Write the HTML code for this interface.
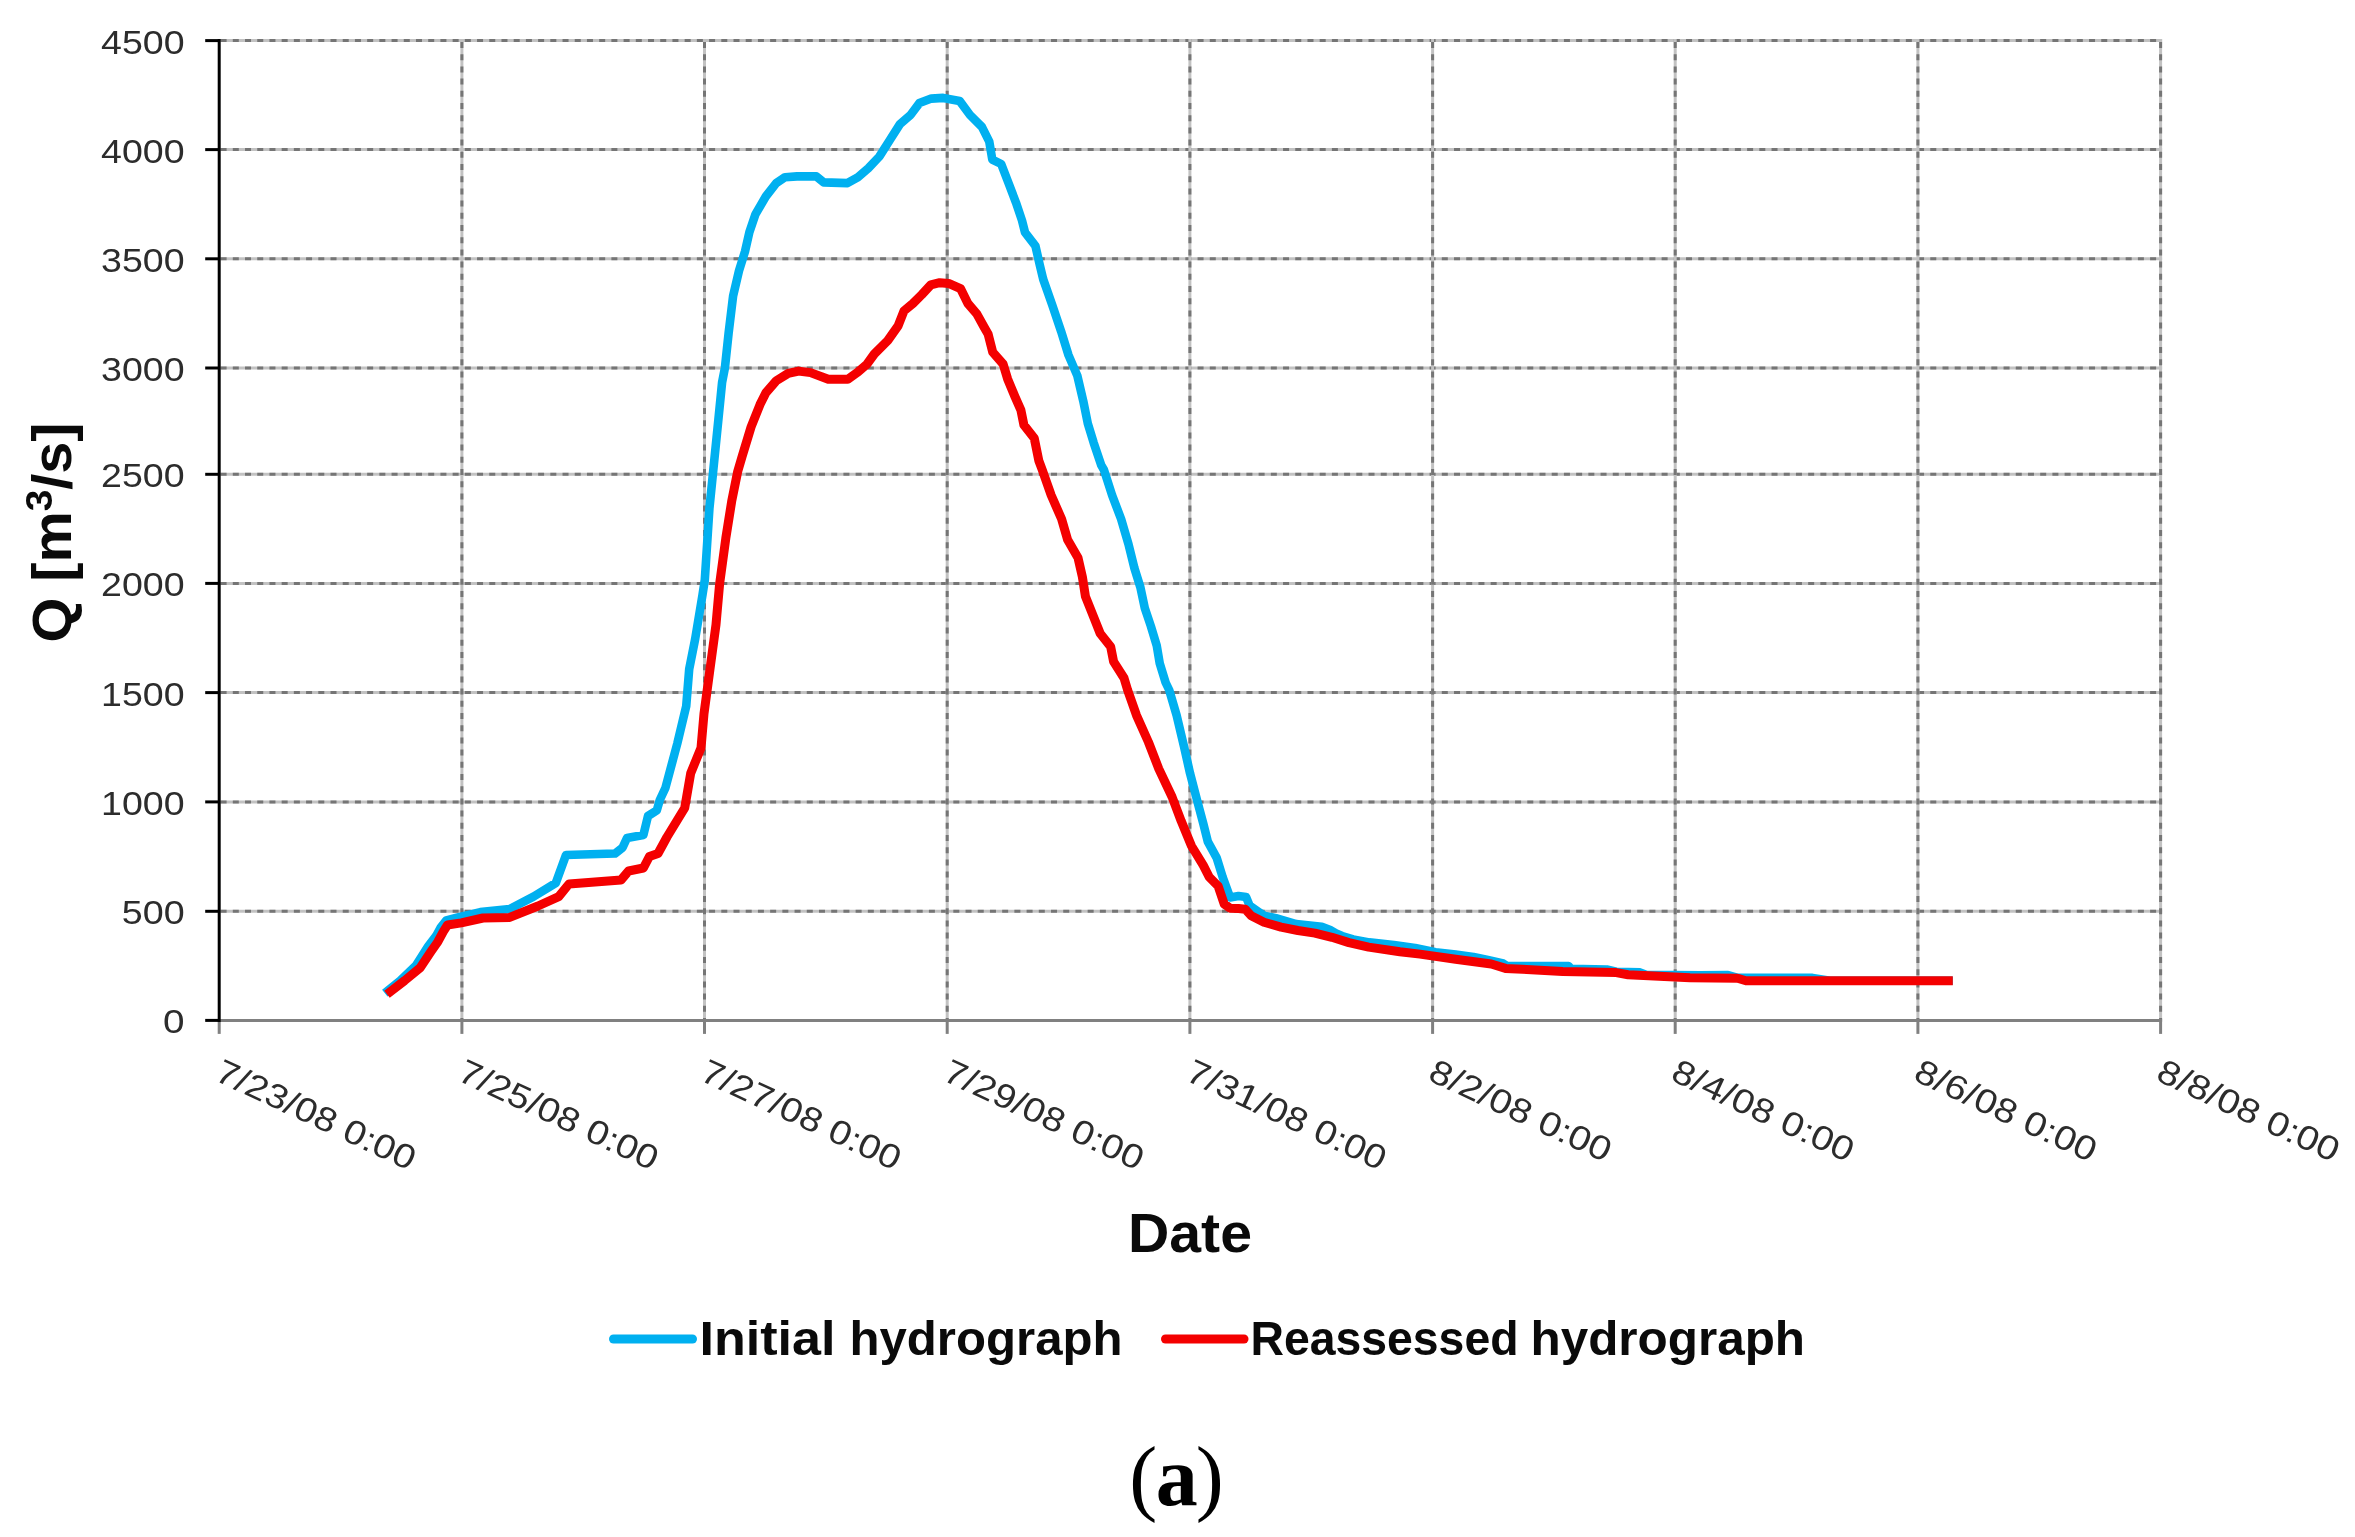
<!DOCTYPE html>
<html lang="en"><head><meta charset="utf-8"><title>Hydrograph (a)</title>
<style>
html,body{margin:0;padding:0;background:#fff;}
body{width:2355px;height:1537px;overflow:hidden;}
svg{display:block;filter:blur(0.55px);}
.t{font-family:"Liberation Sans",sans-serif;fill:#2c2c2c;}
.b{font-family:"Liberation Sans",sans-serif;font-weight:bold;fill:#0a0a0a;}
.s{font-family:"Liberation Serif",serif;fill:#000;}
</style></head><body>
<svg width="2355" height="1537" viewBox="0 0 2355 1537">
<rect width="2355" height="1537" fill="#fff"/>

<g fill="none" stroke-width="3">
<line x1="219.2" x2="2162.1" y1="911.3" y2="911.3" stroke="#c2c2c2"/>
<line x1="220.6" x2="2162.1" y1="911.3" y2="911.3" stroke="#757575" stroke-dasharray="6 6.212"/>
<line x1="219.2" x2="2162.1" y1="801.9" y2="801.9" stroke="#c2c2c2"/>
<line x1="220.6" x2="2162.1" y1="801.9" y2="801.9" stroke="#757575" stroke-dasharray="6 6.212"/>
<line x1="219.2" x2="2162.1" y1="692.6" y2="692.6" stroke="#c2c2c2"/>
<line x1="220.6" x2="2162.1" y1="692.6" y2="692.6" stroke="#757575" stroke-dasharray="6 6.212"/>
<line x1="219.2" x2="2162.1" y1="583.4" y2="583.4" stroke="#c2c2c2"/>
<line x1="220.6" x2="2162.1" y1="583.4" y2="583.4" stroke="#757575" stroke-dasharray="6 6.212"/>
<line x1="219.2" x2="2162.1" y1="474.3" y2="474.3" stroke="#c2c2c2"/>
<line x1="220.6" x2="2162.1" y1="474.3" y2="474.3" stroke="#757575" stroke-dasharray="6 6.212"/>
<line x1="219.2" x2="2162.1" y1="368.0" y2="368.0" stroke="#c2c2c2"/>
<line x1="220.6" x2="2162.1" y1="368.0" y2="368.0" stroke="#757575" stroke-dasharray="6 6.212"/>
<line x1="219.2" x2="2162.1" y1="258.8" y2="258.8" stroke="#c2c2c2"/>
<line x1="220.6" x2="2162.1" y1="258.8" y2="258.8" stroke="#757575" stroke-dasharray="6 6.212"/>
<line x1="219.2" x2="2162.1" y1="149.6" y2="149.6" stroke="#c2c2c2"/>
<line x1="220.6" x2="2162.1" y1="149.6" y2="149.6" stroke="#757575" stroke-dasharray="6 6.212"/>
<line x1="219.2" x2="2162.1" y1="40.6" y2="40.6" stroke="#c2c2c2"/>
<line x1="220.6" x2="2162.1" y1="40.6" y2="40.6" stroke="#757575" stroke-dasharray="6 6.212"/>
<line x1="461.9" x2="461.9" y1="39.1" y2="1020.4" stroke="#c2c2c2"/>
<line x1="461.9" x2="461.9" y1="42.0" y2="1020.4" stroke="#757575" stroke-dasharray="6 6.2"/>
<line x1="704.5" x2="704.5" y1="39.1" y2="1020.4" stroke="#c2c2c2"/>
<line x1="704.5" x2="704.5" y1="42.0" y2="1020.4" stroke="#757575" stroke-dasharray="6 6.2"/>
<line x1="947.2" x2="947.2" y1="39.1" y2="1020.4" stroke="#c2c2c2"/>
<line x1="947.2" x2="947.2" y1="42.0" y2="1020.4" stroke="#757575" stroke-dasharray="6 6.2"/>
<line x1="1189.9" x2="1189.9" y1="39.1" y2="1020.4" stroke="#c2c2c2"/>
<line x1="1189.9" x2="1189.9" y1="42.0" y2="1020.4" stroke="#757575" stroke-dasharray="6 6.2"/>
<line x1="1432.6" x2="1432.6" y1="39.1" y2="1020.4" stroke="#c2c2c2"/>
<line x1="1432.6" x2="1432.6" y1="42.0" y2="1020.4" stroke="#757575" stroke-dasharray="6 6.2"/>
<line x1="1675.2" x2="1675.2" y1="39.1" y2="1020.4" stroke="#c2c2c2"/>
<line x1="1675.2" x2="1675.2" y1="42.0" y2="1020.4" stroke="#757575" stroke-dasharray="6 6.2"/>
<line x1="1917.9" x2="1917.9" y1="39.1" y2="1020.4" stroke="#c2c2c2"/>
<line x1="1917.9" x2="1917.9" y1="42.0" y2="1020.4" stroke="#757575" stroke-dasharray="6 6.2"/>
<line x1="2160.6" x2="2160.6" y1="39.1" y2="1020.4" stroke="#c2c2c2"/>
<line x1="2160.6" x2="2160.6" y1="42.0" y2="1020.4" stroke="#757575" stroke-dasharray="6 6.2"/>
</g>
<line x1="219.2" x2="2162.1" y1="1020.4" y2="1020.4" stroke="#808080" stroke-width="3"/>
<line x1="219.2" x2="219.2" y1="1020.4" y2="1033.9" stroke="#808080" stroke-width="3"/>
<line x1="461.9" x2="461.9" y1="1020.4" y2="1033.9" stroke="#808080" stroke-width="3"/>
<line x1="704.5" x2="704.5" y1="1020.4" y2="1033.9" stroke="#808080" stroke-width="3"/>
<line x1="947.2" x2="947.2" y1="1020.4" y2="1033.9" stroke="#808080" stroke-width="3"/>
<line x1="1189.9" x2="1189.9" y1="1020.4" y2="1033.9" stroke="#808080" stroke-width="3"/>
<line x1="1432.6" x2="1432.6" y1="1020.4" y2="1033.9" stroke="#808080" stroke-width="3"/>
<line x1="1675.2" x2="1675.2" y1="1020.4" y2="1033.9" stroke="#808080" stroke-width="3"/>
<line x1="1917.9" x2="1917.9" y1="1020.4" y2="1033.9" stroke="#808080" stroke-width="3"/>
<line x1="2160.6" x2="2160.6" y1="1020.4" y2="1033.9" stroke="#808080" stroke-width="3"/>
<polyline points="384.8,993.2 400.0,980.8 416.1,965.4 428.3,946.1 436.1,936.0 440.8,927.4 446.3,920.3 456.8,917.6 480.3,912.1 509.7,909.0 533.5,896.6 555.8,883.0 566.0,855.0 615.0,853.5 622.6,847.5 627.0,838.0 643.4,835.0 648.0,816.0 656.8,810.4 659.8,800.0 665.4,788.0 677.3,743.5 686.2,706.3 689.2,669.2 695.1,639.4 702.5,594.9 704.8,580.0 709.4,508.6 713.9,464.0 718.4,419.4 722.1,382.3 724.9,368.0 728.6,333.2 733.1,296.0 739.0,270.8 745.0,251.5 749.4,232.1 755.4,214.3 765.8,196.5 776.2,183.1 785.1,177.2 797.0,176.4 816.3,176.4 823.7,182.4 847.5,183.1 857.9,177.2 868.3,168.2 879.3,156.6 889.7,140.2 900.1,123.9 910.5,115.0 919.4,103.1 931.3,98.6 943.2,97.9 959.6,100.9 970.0,115.0 981.9,126.9 989.3,141.7 992.3,159.6 1001.2,164.0 1008.6,183.3 1016.0,202.7 1022.0,220.5 1025.0,232.4 1035.4,245.8 1039.8,265.1 1043.2,279.3 1052.1,304.6 1061.1,331.3 1068.5,355.1 1077.4,375.9 1083.3,401.2 1087.8,423.5 1093.7,442.8 1101.2,465.1 1104.0,470.0 1112.1,495.3 1121.1,519.0 1128.5,544.3 1134.4,568.1 1140.4,587.4 1144.8,608.2 1150.8,626.0 1156.7,645.4 1159.7,663.2 1165.6,682.5 1169.2,690.0 1176.6,715.3 1184.0,746.5 1190.0,773.2 1197.4,801.5 1203.3,823.7 1207.8,841.6 1216.7,857.9 1222.7,877.2 1230.1,897.5 1238.5,896.1 1246.1,897.0 1249.5,905.4 1258.0,911.4 1264.0,915.6 1275.9,918.2 1296.2,924.1 1321.7,926.7 1330.2,930.1 1336.2,933.5 1342.1,936.0 1353.1,939.4 1369.3,942.4 1393.9,945.0 1415.1,947.9 1435.5,952.2 1455.7,954.6 1473.5,957.0 1487.8,960.0 1503.2,963.5 1506.8,965.9 1568.6,966.1 1571.0,968.9 1606.7,969.5 1616.2,971.8 1640.0,972.4 1645.9,974.8 1700.0,975.2 1728.0,975.0 1737.6,977.9 1812.5,977.9 1830.0,980.8 1952.8,980.8" fill="none" stroke="#00b0f0" stroke-width="8.6" stroke-linejoin="round" stroke-linecap="butt"/>
<polyline points="387.0,994.3 404.6,980.6 420.2,967.7 431.0,951.6 437.9,941.7 443.3,931.6 447.5,925.0 461.3,922.9 483.0,918.0 509.7,917.4 538.0,906.0 558.7,896.6 569.0,884.0 621.0,880.0 628.6,871.0 643.4,868.0 649.4,856.5 658.0,853.5 667.0,837.0 684.7,808.0 690.7,773.2 701.0,748.0 704.0,713.7 710.0,669.0 716.0,624.6 719.6,584.0 725.8,538.3 731.7,501.2 737.7,471.5 742.1,456.6 751.1,426.9 760.0,404.6 765.9,392.7 776.3,380.8 788.2,373.4 798.6,371.1 810.5,372.6 828.3,379.3 847.7,379.3 858.1,371.9 866.8,364.4 874.3,354.0 887.7,340.6 898.1,325.8 904.0,310.9 912.9,303.5 921.8,294.6 930.8,284.9 939.7,282.7 948.6,283.4 960.5,288.6 967.9,303.5 976.8,313.9 984.2,327.3 988.2,334.3 992.7,352.1 1003.1,364.0 1007.6,378.9 1015.0,396.7 1020.9,410.1 1023.9,425.0 1034.3,438.3 1038.8,460.6 1042.3,470.0 1051.2,495.3 1061.6,519.0 1067.6,539.8 1078.0,557.7 1082.4,577.0 1085.4,596.3 1094.3,618.6 1100.2,633.5 1110.7,646.8 1113.6,661.7 1124.0,678.0 1127.6,690.0 1136.5,715.3 1148.4,742.0 1158.8,768.8 1172.1,797.0 1181.1,820.8 1191.5,846.0 1203.3,865.4 1209.3,877.2 1218.2,886.2 1224.2,904.0 1230.0,908.2 1238.5,908.6 1245.3,909.3 1251.2,915.7 1264.0,922.2 1281.0,927.1 1297.9,930.5 1314.9,933.1 1331.9,937.3 1348.9,942.6 1368.6,947.1 1399.9,951.8 1420.0,954.1 1455.7,959.2 1491.3,964.0 1505.6,968.4 1562.7,971.4 1616.2,972.6 1628.1,974.7 1690.0,977.7 1737.6,978.3 1745.9,980.8 1952.8,980.8" fill="none" stroke="#f40000" stroke-width="9" stroke-linejoin="round" stroke-linecap="butt"/>
<line x1="219.2" x2="219.2" y1="39.1" y2="1021.9" stroke="#000" stroke-width="3"/>
<line x1="205.2" x2="219.2" y1="1020.4" y2="1020.4" stroke="#000" stroke-width="3"/>
<line x1="205.2" x2="219.2" y1="911.3" y2="911.3" stroke="#000" stroke-width="3"/>
<line x1="205.2" x2="219.2" y1="801.9" y2="801.9" stroke="#000" stroke-width="3"/>
<line x1="205.2" x2="219.2" y1="692.6" y2="692.6" stroke="#000" stroke-width="3"/>
<line x1="205.2" x2="219.2" y1="583.4" y2="583.4" stroke="#000" stroke-width="3"/>
<line x1="205.2" x2="219.2" y1="474.3" y2="474.3" stroke="#000" stroke-width="3"/>
<line x1="205.2" x2="219.2" y1="368.0" y2="368.0" stroke="#000" stroke-width="3"/>
<line x1="205.2" x2="219.2" y1="258.8" y2="258.8" stroke="#000" stroke-width="3"/>
<line x1="205.2" x2="219.2" y1="149.6" y2="149.6" stroke="#000" stroke-width="3"/>
<line x1="205.2" x2="219.2" y1="40.6" y2="40.6" stroke="#000" stroke-width="3"/>
<text class="t" x="184.6" y="1033.4" font-size="32.5" text-anchor="end" textLength="21.5" lengthAdjust="spacingAndGlyphs">0</text>
<text class="t" x="184.6" y="924.3" font-size="32.5" text-anchor="end" textLength="62.8" lengthAdjust="spacingAndGlyphs">500</text>
<text class="t" x="184.6" y="814.9" font-size="32.5" text-anchor="end" textLength="83.5" lengthAdjust="spacingAndGlyphs">1000</text>
<text class="t" x="184.6" y="705.6" font-size="32.5" text-anchor="end" textLength="83.5" lengthAdjust="spacingAndGlyphs">1500</text>
<text class="t" x="184.6" y="596.4" font-size="32.5" text-anchor="end" textLength="83.5" lengthAdjust="spacingAndGlyphs">2000</text>
<text class="t" x="184.6" y="487.3" font-size="32.5" text-anchor="end" textLength="83.5" lengthAdjust="spacingAndGlyphs">2500</text>
<text class="t" x="184.6" y="381.0" font-size="32.5" text-anchor="end" textLength="83.5" lengthAdjust="spacingAndGlyphs">3000</text>
<text class="t" x="184.6" y="271.8" font-size="32.5" text-anchor="end" textLength="83.5" lengthAdjust="spacingAndGlyphs">3500</text>
<text class="t" x="184.6" y="162.6" font-size="32.5" text-anchor="end" textLength="83.5" lengthAdjust="spacingAndGlyphs">4000</text>
<text class="t" x="184.6" y="53.6" font-size="32.5" text-anchor="end" textLength="83.5" lengthAdjust="spacingAndGlyphs">4500</text>
<text class="t" transform="translate(213.2,1079.5) rotate(25)" font-size="34" textLength="216" lengthAdjust="spacingAndGlyphs">7/23/08 0:00</text>
<text class="t" transform="translate(455.9,1079.5) rotate(25)" font-size="34" textLength="216" lengthAdjust="spacingAndGlyphs">7/25/08 0:00</text>
<text class="t" transform="translate(698.5,1079.5) rotate(25)" font-size="34" textLength="216" lengthAdjust="spacingAndGlyphs">7/27/08 0:00</text>
<text class="t" transform="translate(941.2,1079.5) rotate(25)" font-size="34" textLength="216" lengthAdjust="spacingAndGlyphs">7/29/08 0:00</text>
<text class="t" transform="translate(1183.9,1079.5) rotate(25)" font-size="34" textLength="216" lengthAdjust="spacingAndGlyphs">7/31/08 0:00</text>
<text class="t" transform="translate(1426.6,1079.5) rotate(25)" font-size="34" textLength="196.5" lengthAdjust="spacingAndGlyphs">8/2/08 0:00</text>
<text class="t" transform="translate(1669.2,1079.5) rotate(25)" font-size="34" textLength="196.5" lengthAdjust="spacingAndGlyphs">8/4/08 0:00</text>
<text class="t" transform="translate(1911.9,1079.5) rotate(25)" font-size="34" textLength="196.5" lengthAdjust="spacingAndGlyphs">8/6/08 0:00</text>
<text class="t" transform="translate(2154.6,1079.5) rotate(25)" font-size="34" textLength="196.5" lengthAdjust="spacingAndGlyphs">8/8/08 0:00</text>
<text class="b" x="1190" y="1252" font-size="56" text-anchor="middle" textLength="124" lengthAdjust="spacingAndGlyphs">Date</text>
<text class="b" transform="translate(70.5,642.5) rotate(-90)" font-size="55" textLength="220" lengthAdjust="spacingAndGlyphs">Q [m<tspan font-size="37" dy="-19">3</tspan><tspan dy="19">/s]</tspan></text>
<line x1="613.5" x2="692.5" y1="1339" y2="1339" stroke="#00b0f0" stroke-width="9" stroke-linecap="round"/>
<text class="b" y="1355" font-size="49"><tspan x="699.5" textLength="136" lengthAdjust="spacingAndGlyphs">Initial</tspan><tspan x="833.5" textLength="19" lengthAdjust="spacingAndGlyphs"> </tspan><tspan x="849.5" textLength="273" lengthAdjust="spacingAndGlyphs">hydrograph</tspan></text>
<line x1="1165.5" x2="1244" y1="1339" y2="1339" stroke="#f40000" stroke-width="9" stroke-linecap="round"/>
<text class="b" y="1355" font-size="49"><tspan x="1250.5" textLength="268" lengthAdjust="spacingAndGlyphs">Reassessed</tspan><tspan x="1516" textLength="17" lengthAdjust="spacingAndGlyphs"> </tspan><tspan x="1530.5" textLength="274.5" lengthAdjust="spacingAndGlyphs">hydrograph</tspan></text>
<text class="s" x="1175" y="1504.5" font-size="84" text-anchor="middle"><tspan dx="1.5">(</tspan><tspan font-weight="bold" dx="-1.5">a</tspan><tspan dx="-2">)</tspan></text>
</svg></body></html>
